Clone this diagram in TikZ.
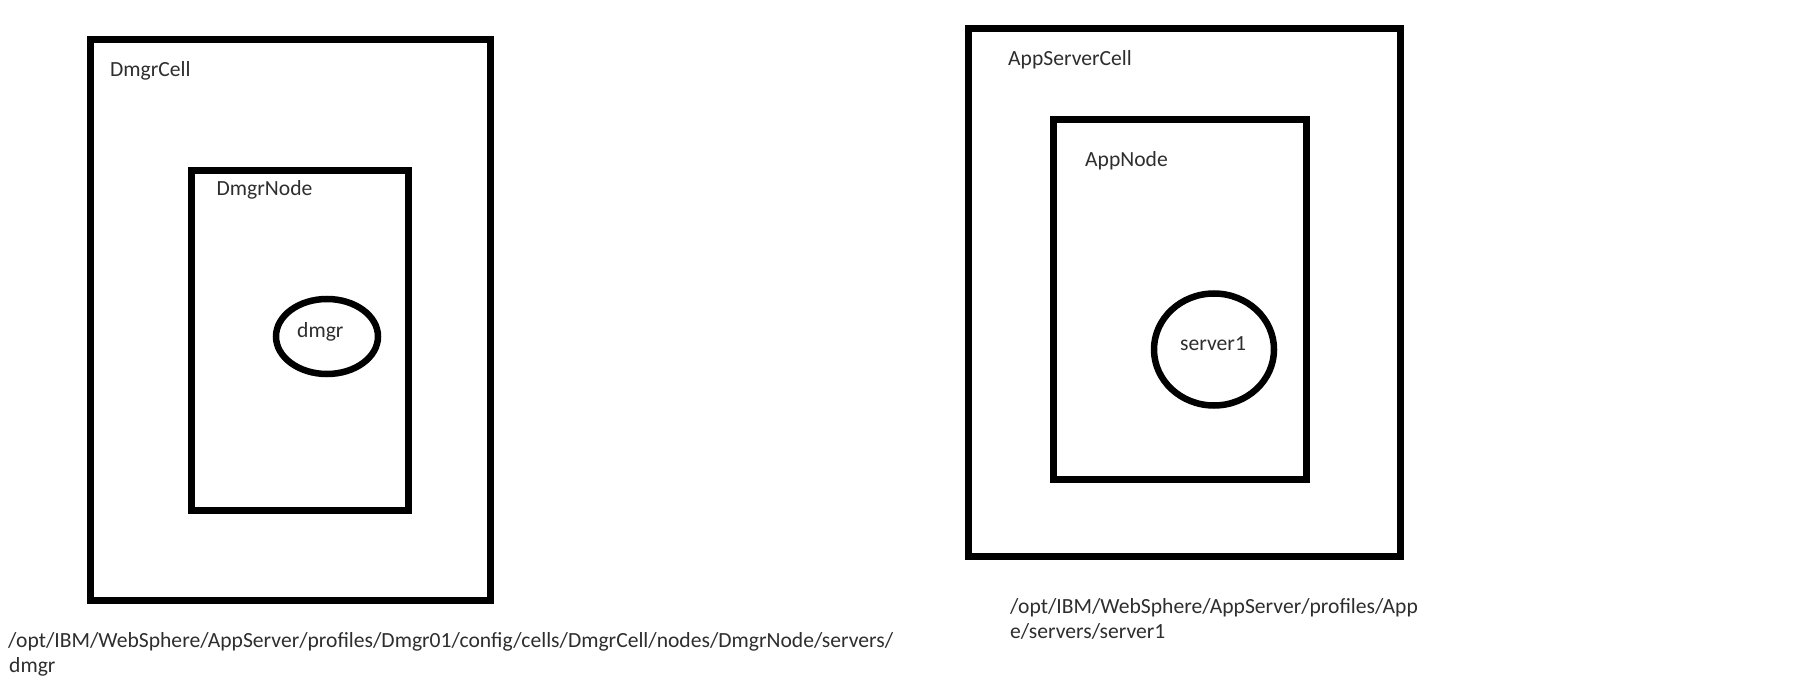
\documentclass[tikz,border=0pt]{standalone}
\usepackage{fontspec}
\setmainfont{Carlito}
\usetikzlibrary{shapes.geometric}
\begin{document}
\begin{tikzpicture}[x=1pt,y=-1pt,
  box/.style={draw=black, line width=7pt, rectangle, inner sep=0pt, outer sep=0pt},
  oval/.style={draw=black, line width=6.5pt, ellipse, inner sep=0pt, outer sep=0pt},
  lbl/.style={inner sep=0pt, anchor=base west, text=black!82, font=\fontsize{21.6}{25}\selectfont}]
\useasboundingbox[fill=white] (0,0) rectangle (1815,692);
% left cell
\node[box, minimum width=400pt, minimum height=560.5pt] (dmgrcell) at (290,319.75) {};
\node[box, minimum width=217pt, minimum height=339pt] (dmgrnode) at (299.5,340.5) {};
\node[oval, minimum width=102pt, minimum height=75pt] (dmgr) at (327,336.5) {};
\node[lbl] (dmgrcelllbl) at (110,77) {DmgrCell};
\node[lbl] (dmgrnodelbl) at (216.5,196) {DmgrNode};
\node[lbl] (dmgrlbl) at (297,338) {dmgr};
% right cell
\node[box, minimum width=431.5pt, minimum height=528pt] (appcell) at (1184.25,292.5) {};
\node[box, minimum width=253.5pt, minimum height=359pt] (appnode) at (1179.75,299.5) {};
\node[oval, minimum width=120pt, minimum height=112pt] (server1) at (1214,349.5) {};
\node[lbl] (appcelllbl) at (1008,66) {AppServerCell};
\node[lbl] (appnodelbl) at (1085,167) {AppNode};
\node[lbl] (server1lbl) at (1180,351) {server1};
% paths
\node[lbl] (pathleft1) at (8,647) {/opt/IBM/WebSphere/AppServer/profiles/Dmgr01/config/cells/DmgrCell/nodes/DmgrNode/servers/};
\node[lbl] (pathleft2) at (9,672) {dmgr};
\node[lbl] (pathright1) at (1010,613) {/opt/IBM/WebSphere/AppServer/profiles/App};
\node[lbl] (pathright2) at (1010,638) {e/servers/server1};
\end{tikzpicture}
\end{document}
